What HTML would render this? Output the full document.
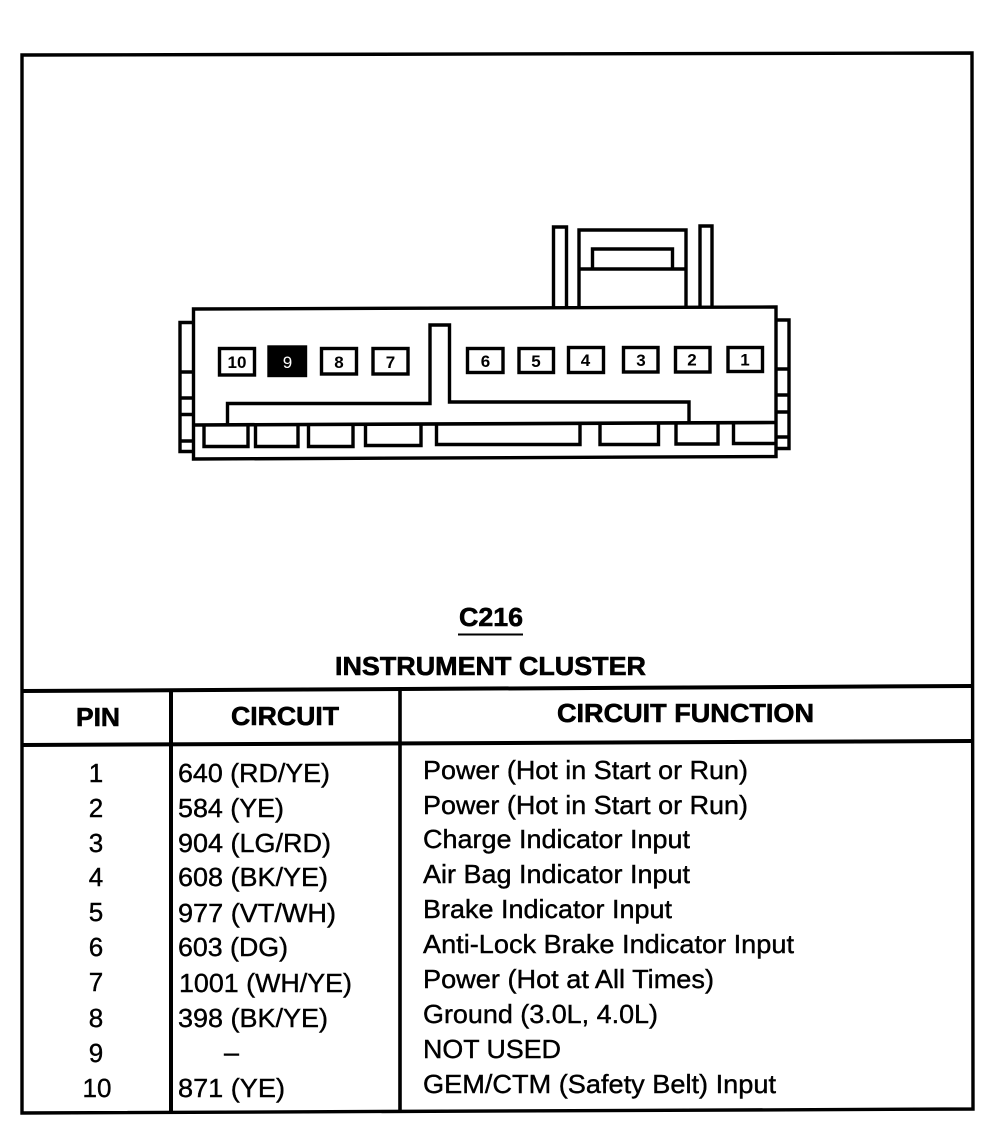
<!DOCTYPE html>
<html><head><meta charset="utf-8"><style>
html,body{margin:0;padding:0;background:#fff}
svg{display:block}
text{font-family:"Liberation Sans",Arial,sans-serif;fill:#000;font-size:26px;stroke:#000;stroke-width:.4px}
.b{font-weight:bold;stroke-width:.6px}
.p{font-size:17px;font-weight:bold;stroke-width:0}
</style></head><body>
<svg width="998" height="1136" viewBox="0 0 998 1136" xmlns="http://www.w3.org/2000/svg">
<g fill="none" stroke="#000" stroke-width="3.4">
<!-- frame -->
<path d="M22 55 L972 53 L973 1109 L22 1113 Z"/>
<path d="M22 691 L972 686" stroke-width="4"/>
<path d="M22 745 L972 741" stroke-width="4"/>
<path d="M171 690 V1113" stroke-width="4"/>
<path d="M400 689 V1111" stroke-width="3.6"/>
<path d="M458 634.500 H523" stroke-width="2"/>
<!-- top posts -->
<path d="M553.500 307 V227 H566.500 V307"/>
<path d="M700 306 V226 H712 V306"/>
<path d="M579 307 V230 H686 V306"/>
<path d="M579 269 H686"/>
<path d="M592.500 269 V249 H672.500 V269"/>
<!-- side tabs -->
<path d="M193 322.500 H180 V451.500 H193"/>
<path d="M180 372 H193 M180 398 H193 M180 414.500 H193 M180 441 H193"/>
<path d="M777 320 H789 V448.500 H777"/>
<path d="M777 369 H789 M777 395 H789 M777 412 H789 M777 437 H789"/>
<!-- body -->
<path d="M193.500 309 L776 307 V456.500 L193.500 459 Z"/>
<!-- slot line -->
<path d="M193 425 L776 422.500" stroke-width="3.6"/>
<path d="M227.500 424 V403.500 H430 V325 H449.500 V402 H689 V423"/>
<!-- bottom open boxes -->
<path d="M204 425 V446.500 H248 V425"/>
<path d="M255.500 425 V446.500 H298 V425"/>
<path d="M308.500 425 V446.500 H353 V425"/>
<path d="M365.500 425 V445.500 H421 V424"/>
<path d="M436.500 424 V444.500 H580 V423"/>
<path d="M600 423 V444.500 H658.500 V423"/>
<path d="M676 423 V444 H718 V423"/>
<path d="M733.500 423 V443.500 H776"/>
<!-- pin boxes -->
<rect x="219.500" y="348.500" width="35" height="26.500"/>
<rect x="269" y="347" width="36.500" height="28.500" fill="#000"/>
<rect x="321.500" y="348.500" width="35" height="25.500"/>
<rect x="373" y="348.500" width="35" height="25.500"/>
<rect x="467.500" y="348.500" width="35.500" height="24"/>
<rect x="519" y="348.500" width="34.500" height="24"/>
<rect x="568.500" y="347.500" width="35" height="25"/>
<rect x="623.500" y="347.500" width="34.500" height="24.500"/>
<rect x="675.500" y="347.500" width="34.500" height="24.500"/>
<rect x="728" y="347.500" width="34.500" height="24"/>
</g>
<!-- pin numbers -->
<text class="p" x="237" y="368" text-anchor="middle">10</text>
<text class="p" x="287.500" y="368" text-anchor="middle" style="fill:#fff;font-weight:normal">9</text>
<text class="p" x="339" y="368" text-anchor="middle">8</text>
<text class="p" x="390.500" y="368" text-anchor="middle">7</text>
<text class="p" x="485.500" y="367" text-anchor="middle">6</text>
<text class="p" x="536" y="367" text-anchor="middle">5</text>
<text class="p" x="585.500" y="366" text-anchor="middle">4</text>
<text class="p" x="641" y="366" text-anchor="middle">3</text>
<text class="p" x="692" y="365.500" text-anchor="middle">2</text>
<text class="p" x="745" y="365.500" text-anchor="middle">1</text>
<!-- titles -->
<text class="b" x="459" y="626" textLength="64" lengthAdjust="spacingAndGlyphs">C216</text>
<text class="b" x="335" y="675" textLength="311" lengthAdjust="spacingAndGlyphs">INSTRUMENT CLUSTER</text>
<text class="b" x="76" y="726" textLength="44" lengthAdjust="spacingAndGlyphs">PIN</text>
<text class="b" x="231" y="725" textLength="108" lengthAdjust="spacingAndGlyphs">CIRCUIT</text>
<text class="b" x="557" y="722" textLength="257" lengthAdjust="spacingAndGlyphs">CIRCUIT FUNCTION</text>
<!-- pin column -->
<g text-anchor="middle">
<text x="96" y="782">1</text><text x="96" y="817">2</text><text x="96" y="852">3</text><text x="96" y="886">4</text><text x="96" y="921">5</text><text x="96" y="956">6</text><text x="96" y="991">7</text><text x="96" y="1027">8</text><text x="96" y="1062">9</text><text x="97" y="1097">10</text>
</g>
<!-- circuit column -->
<text x="178" y="782" textLength="152" lengthAdjust="spacingAndGlyphs">640 (RD/YE)</text>
<text x="178" y="817" textLength="106" lengthAdjust="spacingAndGlyphs">584 (YE)</text>
<text x="178" y="852" textLength="153" lengthAdjust="spacingAndGlyphs">904 (LG/RD)</text>
<text x="178" y="886" textLength="150" lengthAdjust="spacingAndGlyphs">608 (BK/YE)</text>
<text x="178" y="922" textLength="158" lengthAdjust="spacingAndGlyphs">977 (VT/WH)</text>
<text x="178" y="956" textLength="110" lengthAdjust="spacingAndGlyphs">603 (DG)</text>
<text x="179" y="992" textLength="173" lengthAdjust="spacingAndGlyphs">1001 (WH/YE)</text>
<text x="178" y="1027" textLength="150" lengthAdjust="spacingAndGlyphs">398 (BK/YE)</text>
<text x="224" y="1061" textLength="15" lengthAdjust="spacingAndGlyphs">–</text>
<text x="178" y="1097" textLength="107" lengthAdjust="spacingAndGlyphs">871 (YE)</text>
<!-- function column -->
<text x="423" y="779" textLength="325" lengthAdjust="spacingAndGlyphs">Power (Hot in Start or Run)</text>
<text x="423" y="814" textLength="325" lengthAdjust="spacingAndGlyphs">Power (Hot in Start or Run)</text>
<text x="423" y="848" textLength="267" lengthAdjust="spacingAndGlyphs">Charge Indicator Input</text>
<text x="423" y="883" textLength="267" lengthAdjust="spacingAndGlyphs">Air Bag Indicator Input</text>
<text x="423" y="918" textLength="249" lengthAdjust="spacingAndGlyphs">Brake Indicator Input</text>
<text x="423" y="953" textLength="371" lengthAdjust="spacingAndGlyphs">Anti-Lock Brake Indicator Input</text>
<text x="423" y="988" textLength="291" lengthAdjust="spacingAndGlyphs">Power (Hot at All Times)</text>
<text x="423" y="1023" textLength="235" lengthAdjust="spacingAndGlyphs">Ground (3.0L, 4.0L)</text>
<text x="423" y="1058" textLength="138" lengthAdjust="spacingAndGlyphs">NOT USED</text>
<text x="423" y="1093" textLength="353" lengthAdjust="spacingAndGlyphs">GEM/CTM (Safety Belt) Input</text>
</svg>
</body></html>
